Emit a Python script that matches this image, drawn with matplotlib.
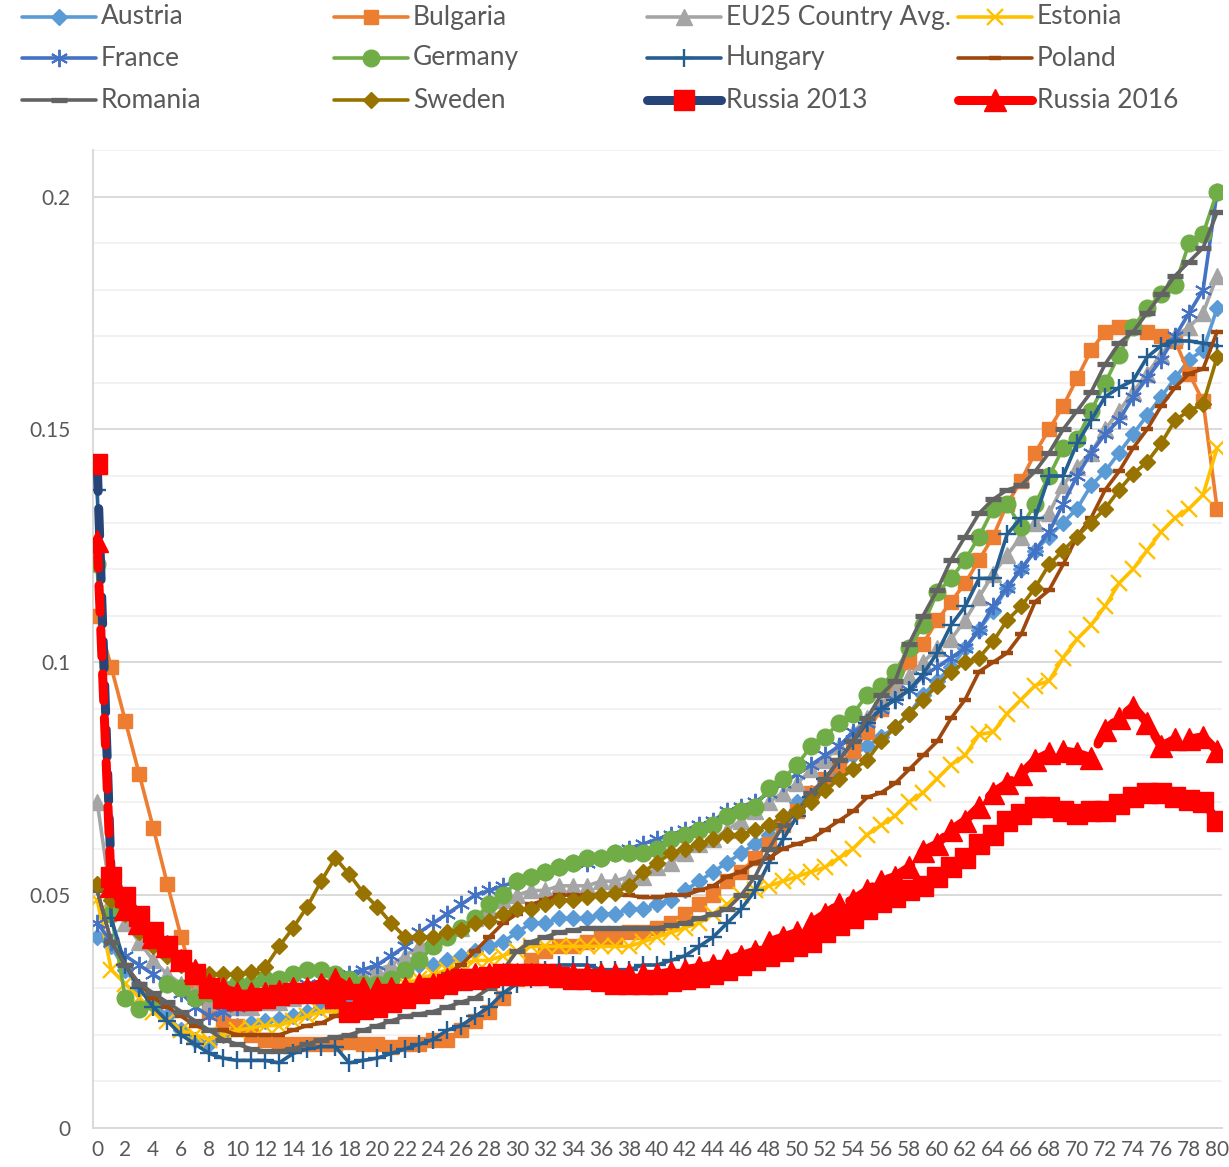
import numpy as np
import matplotlib.pyplot as plt
from matplotlib.lines import Line2D

plt.rcParams['font.family'] = ['Lato', 'DejaVu Sans']

# age 0..80, share per age
ages = list(range(81))

austria = [0.041, 0.039, 0.034, 0.030, 0.027, 0.024, 0.021, 0.019, 0.018, 0.020,
           0.022, 0.0225, 0.023, 0.0235, 0.024, 0.025, 0.026, 0.026, 0.027, 0.029,
           0.031, 0.033, 0.034, 0.035, 0.035, 0.036, 0.037, 0.038, 0.039, 0.040,
           0.042, 0.044, 0.044, 0.045, 0.045, 0.045, 0.046, 0.046, 0.047, 0.047,
           0.048, 0.049, 0.051, 0.053, 0.055, 0.057, 0.059, 0.061, 0.063, 0.066,
           0.070, 0.072, 0.074, 0.077, 0.080, 0.082, 0.084, 0.086, 0.089, 0.093,
           0.096, 0.099, 0.103, 0.107, 0.111, 0.116, 0.120, 0.124, 0.127, 0.130,
           0.133, 0.138, 0.141, 0.145, 0.149, 0.153, 0.157, 0.161, 0.165, 0.167,
           0.176]
bulgaria = [0.110, 0.099, 0.0875, 0.076, 0.0645, 0.0525, 0.041, 0.031, 0.025, 0.023,
            0.022, 0.020, 0.019, 0.018, 0.018, 0.018, 0.018, 0.018, 0.0185, 0.018,
            0.018, 0.0175, 0.018, 0.018, 0.019, 0.019, 0.021, 0.023, 0.025, 0.028,
            0.032, 0.036, 0.038, 0.039, 0.039, 0.040, 0.041, 0.041, 0.042, 0.042,
            0.043, 0.044, 0.046, 0.048, 0.050, 0.053, 0.055, 0.058, 0.061, 0.065,
            0.068, 0.072, 0.075, 0.078, 0.081, 0.085, 0.090, 0.095, 0.100, 0.104,
            0.109, 0.113, 0.117, 0.122, 0.127, 0.134, 0.139, 0.145, 0.150, 0.155,
            0.161, 0.167, 0.171, 0.172, 0.172, 0.171, 0.170, 0.169, 0.162, 0.156,
            0.133]
eu25 = [0.070, 0.049, 0.044, 0.040, 0.036, 0.033, 0.031, 0.029, 0.027, 0.026,
        0.026, 0.026, 0.027, 0.027, 0.028, 0.029, 0.030, 0.031, 0.032, 0.033,
        0.034, 0.035, 0.037, 0.039, 0.040, 0.042, 0.043, 0.045, 0.047, 0.049,
        0.050, 0.051, 0.051, 0.052, 0.052, 0.052, 0.053, 0.053, 0.054, 0.054,
        0.056, 0.057, 0.059, 0.061, 0.062, 0.064, 0.066, 0.068, 0.070, 0.072,
        0.074, 0.077, 0.079, 0.082, 0.085, 0.088, 0.091, 0.094, 0.097, 0.100,
        0.103, 0.105, 0.109, 0.114, 0.119, 0.123, 0.127, 0.130, 0.132, 0.138,
        0.142, 0.145, 0.150, 0.154, 0.158, 0.162, 0.166, 0.170, 0.172, 0.175,
        0.183]
estonia = [0.049, 0.034, 0.031, 0.028, 0.025, 0.023, 0.021, 0.020, 0.019, 0.020,
           0.021, 0.0215, 0.022, 0.022, 0.023, 0.024, 0.025, 0.025, 0.026, 0.027,
           0.029, 0.030, 0.031, 0.032, 0.033, 0.034, 0.035, 0.036, 0.036, 0.037,
           0.038, 0.039, 0.039, 0.039, 0.039, 0.039, 0.039, 0.039, 0.039, 0.040,
           0.041, 0.042, 0.043, 0.044, 0.046, 0.048, 0.050, 0.051, 0.052, 0.053,
           0.054, 0.055, 0.056, 0.058, 0.060, 0.063, 0.065, 0.067, 0.070, 0.072,
           0.075, 0.078, 0.080, 0.0845, 0.085, 0.089, 0.092, 0.095, 0.096, 0.101,
           0.105, 0.108, 0.112, 0.117, 0.120, 0.124, 0.128, 0.131, 0.133, 0.136,
           0.146]
france = [0.044, 0.040, 0.037, 0.035, 0.033, 0.031, 0.029, 0.026, 0.024, 0.025,
          0.026, 0.027, 0.028, 0.029, 0.030, 0.031, 0.031, 0.032, 0.033, 0.034,
          0.035, 0.037, 0.039, 0.042, 0.044, 0.046, 0.048, 0.050, 0.051, 0.052,
          0.053, 0.054, 0.055, 0.056, 0.057, 0.057, 0.058, 0.059, 0.060, 0.061,
          0.062, 0.063, 0.064, 0.065, 0.066, 0.068, 0.069, 0.070, 0.072, 0.074,
          0.076, 0.078, 0.080, 0.082, 0.085, 0.087, 0.090, 0.092, 0.094, 0.097,
          0.099, 0.101, 0.103, 0.107, 0.112, 0.116, 0.120, 0.124, 0.128, 0.134,
          0.140, 0.145, 0.149, 0.152, 0.157, 0.161, 0.165, 0.170, 0.175, 0.180,
          0.201]
germany = [0.121, 0.046, 0.028, 0.0255, 0.027, 0.031, 0.030, 0.028, 0.029, 0.030,
           0.031, 0.031, 0.032, 0.032, 0.033, 0.034, 0.034, 0.033, 0.032, 0.031,
           0.031, 0.032, 0.034, 0.036, 0.039, 0.041, 0.043, 0.045, 0.048, 0.050,
           0.053, 0.054, 0.055, 0.056, 0.057, 0.058, 0.058, 0.059, 0.059, 0.059,
           0.060, 0.062, 0.063, 0.064, 0.065, 0.067, 0.068, 0.069, 0.073, 0.075,
           0.078, 0.082, 0.084, 0.087, 0.089, 0.093, 0.095, 0.098, 0.103, 0.108,
           0.115, 0.118, 0.122, 0.127, 0.133, 0.134, 0.129, 0.134, 0.140, 0.146,
           0.148, 0.154, 0.160, 0.166, 0.172, 0.176, 0.179, 0.181, 0.190, 0.192,
           0.201]
hungary = [0.137, 0.045, 0.035, 0.030, 0.026, 0.023, 0.020, 0.018, 0.016, 0.015,
           0.0145, 0.0145, 0.0145, 0.014, 0.016, 0.017, 0.0175, 0.0175, 0.014, 0.0145,
           0.015, 0.016, 0.017, 0.018, 0.019, 0.021, 0.022, 0.024, 0.026, 0.029,
           0.031, 0.032, 0.034, 0.035, 0.035, 0.035, 0.034, 0.034, 0.034, 0.035,
           0.035, 0.036, 0.037, 0.039, 0.041, 0.044, 0.047, 0.051, 0.057, 0.062,
           0.067, 0.071, 0.075, 0.079, 0.083, 0.087, 0.090, 0.092, 0.094, 0.0975,
           0.102, 0.108, 0.112, 0.118, 0.118, 0.1275, 0.131, 0.131, 0.140, 0.140,
           0.147, 0.152, 0.157, 0.159, 0.1605, 0.1655, 0.168, 0.169, 0.169, 0.1685,
           0.168]
poland = [0.051, 0.040, 0.035, 0.031, 0.028, 0.026, 0.024, 0.022, 0.021, 0.021,
          0.020, 0.020, 0.020, 0.020, 0.021, 0.022, 0.0225, 0.024, 0.025, 0.026,
          0.027, 0.028, 0.029, 0.030, 0.031, 0.033, 0.035, 0.038, 0.041, 0.044,
          0.046, 0.048, 0.049, 0.050, 0.050, 0.050, 0.050, 0.050, 0.050, 0.0495,
          0.0495, 0.050, 0.050, 0.051, 0.052, 0.054, 0.055, 0.057, 0.058, 0.060,
          0.061, 0.062, 0.064, 0.066, 0.068, 0.071, 0.072, 0.074, 0.077, 0.080,
          0.083, 0.088, 0.092, 0.098, 0.100, 0.102, 0.106, 0.113, 0.1155, 0.121,
          0.127, 0.131, 0.137, 0.141, 0.146, 0.150, 0.155, 0.159, 0.162, 0.163,
          0.171]
romania = [0.051, 0.040, 0.035, 0.031, 0.029, 0.027, 0.025, 0.023, 0.021, 0.019,
           0.018, 0.017, 0.0165, 0.0165, 0.017, 0.018, 0.019, 0.0195, 0.020, 0.021,
           0.022, 0.023, 0.024, 0.0245, 0.025, 0.026, 0.027, 0.028, 0.030, 0.034,
           0.038, 0.040, 0.041, 0.042, 0.0425, 0.043, 0.043, 0.043, 0.043, 0.043,
           0.043, 0.0435, 0.044, 0.045, 0.046, 0.047, 0.050, 0.054, 0.060, 0.065,
           0.068, 0.072, 0.075, 0.079, 0.083, 0.088, 0.093, 0.096, 0.104, 0.110,
           0.1155, 0.122, 0.127, 0.132, 0.135, 0.137, 0.138, 0.141, 0.145, 0.150,
           0.154, 0.158, 0.164, 0.1685, 0.171, 0.175, 0.179, 0.183, 0.186, 0.189,
           0.1966]
sweden = [0.0525, 0.049, 0.046, 0.042, 0.039, 0.037, 0.035, 0.034, 0.033, 0.033,
          0.033, 0.0335, 0.0345, 0.039, 0.043, 0.0475, 0.053, 0.058, 0.0545, 0.0505,
          0.0475, 0.044, 0.041, 0.041, 0.041, 0.042, 0.0425, 0.044, 0.0445, 0.046,
          0.047, 0.047, 0.048, 0.049, 0.049, 0.0495, 0.050, 0.0505, 0.052, 0.055,
          0.057, 0.059, 0.060, 0.061, 0.062, 0.063, 0.063, 0.064, 0.065, 0.067,
          0.068, 0.070, 0.0725, 0.075, 0.077, 0.079, 0.083, 0.086, 0.089, 0.092,
          0.095, 0.098, 0.100, 0.101, 0.1045, 0.109, 0.112, 0.116, 0.121, 0.124,
          0.127, 0.130, 0.133, 0.137, 0.1405, 0.143, 0.147, 0.152, 0.154, 0.1555,
          0.1655]
russia_2013 = [0.1425, 0.054, 0.0495, 0.0455, 0.042, 0.039, 0.036, 0.033, 0.030, 0.028,
               0.0275, 0.0275, 0.028, 0.0285, 0.029, 0.029, 0.029, 0.028, 0.025, 0.0255,
               0.026, 0.027, 0.028, 0.029, 0.030, 0.031, 0.032, 0.032, 0.0325, 0.033,
               0.033, 0.033, 0.033, 0.0325, 0.032, 0.032, 0.0315, 0.031, 0.031, 0.031,
               0.031, 0.0315, 0.032, 0.0325, 0.033, 0.034, 0.035, 0.036, 0.037, 0.038,
               0.039, 0.040, 0.042, 0.0435, 0.045, 0.047, 0.0485, 0.0495, 0.051, 0.052,
               0.054, 0.056, 0.058, 0.061, 0.063, 0.066, 0.0675, 0.069, 0.069, 0.068,
               0.0675, 0.068, 0.068, 0.0695, 0.071, 0.072, 0.072, 0.071, 0.0705, 0.070,
               0.066]
russia_2016 = [0.126, 0.052, 0.047, 0.044, 0.041, 0.039, 0.036, 0.034, 0.031, 0.030,
               0.029, 0.029, 0.029, 0.0295, 0.030, 0.030, 0.031, 0.032, 0.030, 0.030,
               0.030, 0.030, 0.030, 0.031, 0.031, 0.032, 0.032, 0.033, 0.033, 0.033,
               0.033, 0.033, 0.033, 0.033, 0.033, 0.033, 0.033, 0.033, 0.033, 0.033,
               0.033, 0.0335, 0.034, 0.0345, 0.035, 0.036, 0.037, 0.038, 0.040, 0.041,
               0.042, 0.044, 0.046, 0.048, 0.049, 0.051, 0.053, 0.054, 0.056, 0.0595,
               0.061, 0.064, 0.066, 0.069, 0.072, 0.074, 0.076, 0.079, 0.0805, 0.081,
               0.0805, 0.0795, 0.0855, 0.088, 0.0905, 0.087, 0.082, 0.0835, 0.0835, 0.084,
               0.081]

labels = ["Austria", "Bulgaria", "EU25 Country Avg.", "Estonia",
          "France", "Germany", "Hungary", "Poland",
          "Romania", "Sweden", "Russia 2013", "Russia 2016"]
values = [austria, bulgaria, eu25, estonia, france, germany, hungary, poland,
          romania, sweden, russia_2013, russia_2016]

LW = 2.6
styles = [
    dict(color='#5B9BD5', marker='D', ms=8.3),
    dict(color='#ED7D31', marker='s', ms=10.5),
    dict(color='#A5A5A5', marker='^', ms=11.5),
    dict(color='#FFC000', marker='x', ms=11.5, mew=1.7),
    dict(color='#4472C4', marker=(6, 2, 0), ms=12.5, mew=1.4),
    dict(color='#70AD47', marker='o', ms=12),
    dict(color='#255E91', marker='+', ms=12.5, mew=1.7),
    dict(color='#9E480E', marker='_', ms=8, mew=3.2),
    dict(color='#636363', marker='_', ms=11, mew=3.8),
    dict(color='#997300', marker='D', ms=8.6),
    dict(color='#264478', marker='s', ms=14.5, mfc='#FF0000', mec='#FF0000', lw=6.5),
    dict(color='#FF0000', marker='^', ms=15.5, mfc='#FF0000', mec='#FF0000', lw=6.5),
]

fig = plt.figure(figsize=(12.29, 11.67), dpi=100)
ax = fig.add_axes([93 / 1229, 1 - 1128 / 1167, (1222 - 93) / 1229, (1128 - 150) / 1167])

for i, (lab, vals, st) in enumerate(zip(labels, values, styles)):
    kw = dict(st)
    lw = kw.pop('lw', LW)
    if lab.startswith('Russia'):
        ax.plot(ages, vals, lw=lw, linestyle=(0, (3.0, 1.9)), dash_capstyle='round',
                solid_joinstyle='round', zorder=3 + i, **kw)
    else:
        ax.plot(ages, vals, lw=lw, solid_joinstyle='round', zorder=3 + i, **kw)

ax.set_xlim(-0.3, 80.35)
ax.set_ylim(0, 0.21)
ax.set_yticks([0, 0.05, 0.1, 0.15, 0.2])
ax.set_yticklabels(['0', '0.05', '0.1', '0.15', '0.2'])
ax.set_yticks(np.arange(0, 0.2101, 0.01), minor=True)
ax.set_xticks(range(0, 81, 2))
ax.set_xticklabels([str(a) for a in range(0, 81, 2)])
ax.grid(which='minor', axis='y', color='#F2F2F2', lw=1.4)
ax.grid(which='major', axis='y', color='#D9D9D9', lw=1.4)
ax.set_axisbelow(True)
ax.tick_params(which='both', length=0, colors='#595959', labelsize=15)
ax.tick_params(axis='y', pad=16)
ax.tick_params(axis='x', pad=9)
for s in ['top', 'right']:
    ax.spines[s].set_visible(False)
ax.spines['left'].set_color('#D9D9D9')
ax.spines['bottom'].set_color('#D9D9D9')
ax.spines['left'].set_linewidth(1.4)
ax.spines['bottom'].set_linewidth(1.4)

# legend: 4 columns x 3 rows, drawn in figure pixels
W, H = 1229, 1167
col_x = [22, 334, 647, 958]
row_y = [17, 58, 100]
for i, (lab, st) in enumerate(zip(labels, styles)):
    r, c = divmod(i, 4)
    x0 = col_x[c]
    y = 1 - row_y[r] / H
    kw = dict(st)
    lw = kw.pop('lw', LW)
    xs = [x0 / W, (x0 + 37) / W, (x0 + 74) / W]
    fig.add_artist(Line2D(xs, [y, y, y], transform=fig.transFigure, lw=lw,
                          solid_capstyle='round', markevery=[1], **kw))
    fig.text((x0 + 79) / W, y, lab, fontsize=19, color='#595959', va='center', ha='left')

fig.savefig('out.png', dpi=100)
